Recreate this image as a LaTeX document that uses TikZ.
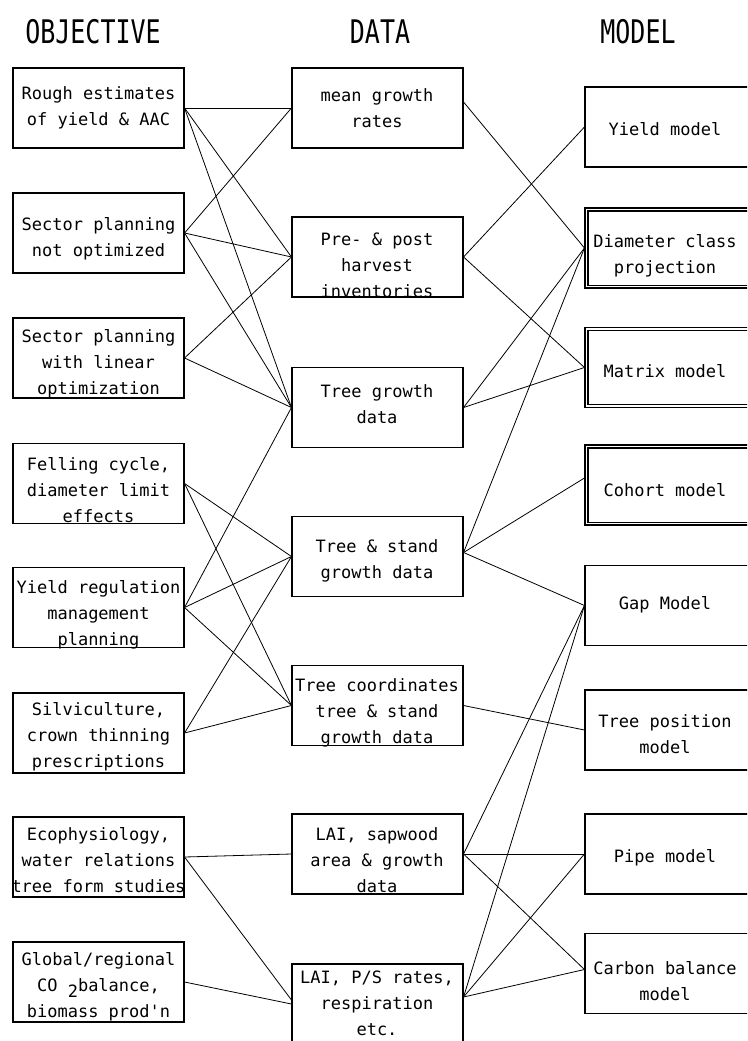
\documentclass[tikz,border=0pt]{standalone}
\usepackage{fontspec}
\usepackage{graphicx}
\setmainfont{DejaVu Sans Mono}
\begin{document}
\begin{tikzpicture}[x=1pt,y=-1pt,
  box/.style={draw, line width=1.1pt, minimum width=171pt, minimum height=80pt, inner sep=0pt},
  inner/.style={line width=1.1pt},
  txt/.style={align=center, font=\fontsize{17}{26}\selectfont, inner sep=0pt},
  hdr/.style={font=\fontsize{25}{30}\selectfont, inner sep=0pt},
  link/.style={line width=0.8pt}]
\useasboundingbox (0,0) rectangle (747,1041);
\clip (0,0) rectangle (747,1041);
% headers
\node[hdr] (hobj) at (93,32) {\scalebox{1}[1.3]{OBJECTIVE}};
\node[hdr] (hdata) at (380,32) {\scalebox{1}[1.3]{DATA}};
\node[hdr] (hmodel) at (638,32) {\scalebox{1}[1.3]{MODEL}};
% objective boxes
\node[box] (L1) at (98.5,108) {};
\node[box] (L2) at (98.5,233) {};
\node[box] (L3) at (98.5,358) {};
\node[box] (L4) at (98.5,483.5) {};
\node[box] (L5) at (98.5,607.5) {};
\node[box] (L6) at (98.5,733) {};
\node[box] (L7) at (98.5,857) {};
\node[box] (L8) at (98.5,982) {};
\node[txt] (L1t) at (98.5,108) {Rough estimates\\of yield \& AAC};
\node[txt] (L2t) at (98.5,239) {Sector planning\\not optimized};
\node[txt] (L3t) at (98.5,363.5) {Sector planning\\with linear\\optimization};
\node[txt] (L4t) at (98.5,490.5) {Felling cycle,\\diameter limit\\effects};
\node[txt] (L5t) at (98.5,614.5) {Yield regulation\\management\\planning};
\node[txt] (L6t) at (98.5,737) {Silviculture,\\crown thinning\\prescriptions};
\node[txt] (L7t) at (98.5,860.5) {Ecophysiology,\\water relations\\tree form studies};
\node[txt] (L8t) at (98.5,986.5) {Global/regional\\CO \raisebox{-6pt}{2}balance,\\biomass prod\textquotesingle n};
% data boxes
\node[box] (M1) at (377.5,108) {};
\node[box] (M2) at (377.5,257) {};
\node[box] (M3) at (377.5,407.5) {};
\node[box] (M4) at (377.5,556.5) {};
\node[box] (M5) at (377.5,705.5) {};
\node[box] (M6) at (377.5,854) {};
\node[box] (M7) at (377.5,1004) {};
\node[txt] (M1t) at (377,108.5) {mean growth\\rates};
\node[txt] (M2t) at (377,265.5) {Pre- \& post\\harvest\\inventories};
\node[txt] (M3t) at (377,404.5) {Tree growth\\data};
\node[txt] (M4t) at (377,560.5) {Tree \& stand\\growth data};
\node[txt] (M5t) at (377,713) {Tree coordinates\\tree \& stand\\growth data};
\node[txt] (M6t) at (377,860.5) {LAI, sapwood\\area \& growth\\data};
\node[txt] (M7t) at (377,1003) {LAI, P/S rates,\\respiration\\etc.};
% model boxes
\node[box] (R1) at (670.5,127) {};
\node[box] (R2) at (670.5,248) {};
\node[box] (R3) at (670.5,367.5) {};
\node[box] (R4) at (670.5,485) {};
\node[box] (R5) at (670.5,605.5) {};
\node[box] (R6) at (670.5,730) {};
\node[box] (R7) at (670.5,854) {};
\node[box] (R8) at (670.5,973.5) {};
% inner frames of the double-bordered boxes
\foreach \n in {R2,R3,R4}
  \draw[inner] ([shift={(3.5pt,-3.5pt)}]\n.north west) rectangle ([shift={(-3.5pt,3.5pt)}]\n.south east);
\node[txt] (R1t) at (665,129) {Yield model};
\node[txt] (R2t) at (665,255.5) {Diameter class\\projection};
\node[txt] (R3t) at (665,371) {Matrix model};
\node[txt] (R4t) at (665,490) {Cohort model};
\node[txt] (R5t) at (665,605) {Gap Model};
\node[txt] (R6t) at (665,734) {Tree position\\model};
\node[txt] (R7t) at (665,858) {Pipe model};
\node[txt] (R8t) at (665,981) {Carbon balance\\model};
% objective -> data links
\foreach \a/\b in {L1/M1,L1/M2,L1/M3,L2/M1,L2/M2,L2/M3,L3/M2,L3/M3,L4/M4,L4/M5,L5/M3,L5/M4,L5/M5,L6/M4,L6/M5,L7/M6,L8/M7}
  \draw[link] (\a.east) -- (\b.west);
\draw[link] (L7.east) -- ([yshift=4pt]M7.west);
% data -> model links
\draw[link] ([yshift=6pt]M1.east) -- (R2.west);
\foreach \a/\b in {M2/R1,M2/R3,M3/R2,M3/R3,M5/R6,M6/R5,M6/R7}
  \draw[link] (\a.east) -- (\b.west);
\draw[link] ([yshift=4pt]M4.east) -- (R2.west);
\draw[link] ([yshift=4pt]M4.east) -- ([yshift=7pt]R4.west);
\draw[link] ([yshift=4pt]M4.east) -- (R5.west);
\draw[link] (M6.east) -- ([yshift=4pt]R8.west);
\draw[link] ([yshift=7pt]M7.east) -- (R5.west);
\draw[link] ([yshift=7pt]M7.east) -- (R7.west);
\draw[link] ([yshift=7pt]M7.east) -- ([yshift=4pt]R8.west);
\end{tikzpicture}
\end{document}
